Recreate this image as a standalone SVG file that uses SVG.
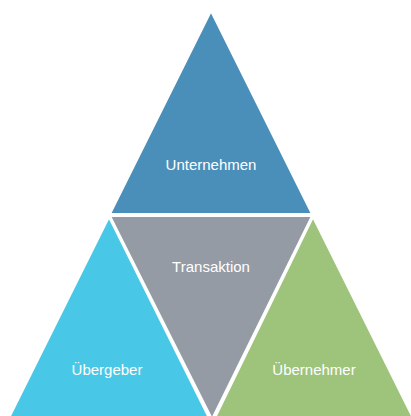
<svg xmlns="http://www.w3.org/2000/svg" width="411" height="416" viewBox="0 0 411 416">
  <style>
    .tri { stroke: #ffffff; stroke-width: 2; stroke-linejoin: miter; }
    .lbl { font-family: "Liberation Sans", Arial, sans-serif; font-size: 15px; fill: #ffffff; text-anchor: middle; }
  </style>
  <rect width="411" height="416" fill="#ffffff"/>
  <g id="unternehmen">
    <polygon class="tri" points="211,11 110,214 312,214" fill="#4A8FBA"/>
    <text class="lbl" x="211" y="170">Unternehmen</text>
  </g>
  <g id="transaktion">
    <polygon class="tri" points="110,216 312,216 212,419" fill="#959BA5"/>
    <text class="lbl" x="211" y="272">Transaktion</text>
  </g>
  <g id="uebergeber">
    <polygon class="tri" points="109,217 8,420 210,420" fill="#48C8E6"/>
    <text class="lbl" x="107" y="375">Übergeber</text>
  </g>
  <g id="uebernehmer">
    <polygon class="tri" points="313,217 214,420 414,420" fill="#9DC47A"/>
    <text class="lbl" x="314" y="375">Übernehmer</text>
  </g>
  <g id="connectors"/>
</svg>
